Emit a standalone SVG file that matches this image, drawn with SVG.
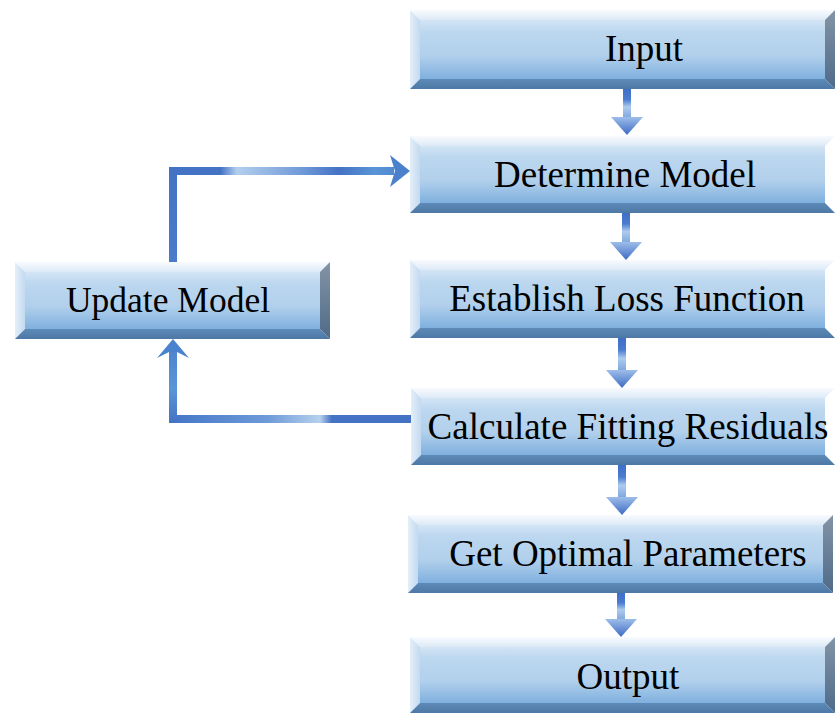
<svg xmlns="http://www.w3.org/2000/svg" width="835" height="713" viewBox="0 0 835 713">
<style>
.face{fill:url(#gFace)}
.bt{fill:url(#gTop)}
.bl{fill:url(#gLeft)}
.bb{fill:url(#gBot)}
.br{fill:url(#gRight)}
.lbl{font-size:37px;fill:#000;text-anchor:middle}
.shaft{fill:url(#gShaft)}
.head{fill:url(#gHead)}
</style>
<defs>
<linearGradient id="gFace" x1="0" y1="0" x2="0" y2="1">
<stop offset="0" stop-color="#d3e5f5"/><stop offset="0.2" stop-color="#bcd7ef"/><stop offset="0.6" stop-color="#b2d0ec"/><stop offset="1" stop-color="#7fb0de"/>
</linearGradient>
<linearGradient id="gTop" x1="0" y1="0" x2="0" y2="1">
<stop offset="0" stop-color="#f8fbfe"/><stop offset="1" stop-color="#dde9f6"/>
</linearGradient>
<linearGradient id="gLeft" x1="0" y1="0" x2="1" y2="0">
<stop offset="0" stop-color="#e4eff9"/><stop offset="1" stop-color="#c3daf0"/>
</linearGradient>
<linearGradient id="gBot" x1="0" y1="0" x2="0" y2="1">
<stop offset="0" stop-color="#5d8ab8"/><stop offset="1" stop-color="#4d78a5"/>
</linearGradient>
<linearGradient id="gRight" x1="0" y1="0" x2="0" y2="1">
<stop offset="0" stop-color="#8394a6"/><stop offset="1" stop-color="#4f6a88"/>
</linearGradient>
<linearGradient id="gShaft" x1="0" y1="0" x2="0" y2="1">
<stop offset="0" stop-color="#3f6ec6"/><stop offset="0.35" stop-color="#4a7cd0"/><stop offset="0.6" stop-color="#adcbec"/><stop offset="1" stop-color="#7aa3dc"/>
</linearGradient>
<linearGradient id="gHead" x1="0" y1="0" x2="0" y2="1">
<stop offset="0" stop-color="#9dbde9"/><stop offset="1" stop-color="#3d6bc4"/>
</linearGradient>
<linearGradient id="gFbH" gradientUnits="userSpaceOnUse" x1="410" y1="0" x2="173" y2="0">
<stop offset="0" stop-color="#4472c4"/><stop offset="0.33" stop-color="#4472c4"/><stop offset="0.38" stop-color="#b5d1ee"/><stop offset="0.6" stop-color="#6f9ad8"/><stop offset="1" stop-color="#4477c8"/>
</linearGradient>
<linearGradient id="gFbV" gradientUnits="userSpaceOnUse" x1="0" y1="423" x2="0" y2="339">
<stop offset="0" stop-color="#4472c4"/><stop offset="0.4" stop-color="#5a95d6"/><stop offset="1" stop-color="#4a80cc"/>
</linearGradient>
<linearGradient id="gTopV" gradientUnits="userSpaceOnUse" x1="0" y1="262" x2="0" y2="168">
<stop offset="0" stop-color="#4a7ccb"/><stop offset="1" stop-color="#4472c4"/>
</linearGradient>
<linearGradient id="gTopH" gradientUnits="userSpaceOnUse" x1="173" y1="0" x2="410" y2="0">
<stop offset="0" stop-color="#4472c4"/><stop offset="0.2" stop-color="#4472c4"/><stop offset="0.27" stop-color="#b3cfed"/><stop offset="0.55" stop-color="#6f98d8"/><stop offset="0.7" stop-color="#4472c4"/><stop offset="0.85" stop-color="#5a95d6"/><stop offset="1" stop-color="#4a80cc"/>
</linearGradient>
</defs>

<g id="connectors">
<g id="c1"><rect class="shaft" x="623" y="89" width="8" height="30"/><polygon class="head" points="611,117 643,117 627,135"/></g>
<g id="c2"><rect class="shaft" x="622" y="213" width="8" height="31"/><polygon class="head" points="610,242 642,242 626,260"/></g>
<g id="c3"><rect class="shaft" x="618" y="338" width="8" height="34"/><polygon class="head" points="606,370 638,370 622,388"/></g>
<g id="c4"><rect class="shaft" x="618" y="465" width="8" height="34"/><polygon class="head" points="606,497 638,497 622,515"/></g>
<g id="c5"><rect class="shaft" x="617" y="593" width="8" height="28"/><polygon class="head" points="605,619 637,619 621,637"/></g>
<g id="fb">
<rect x="173" y="415" width="238" height="8" fill="url(#gFbH)"/>
<rect x="169" y="352" width="8" height="71" fill="url(#gFbV)"/>
<polygon points="157,358 173,339 189,358 177,352 169,352" fill="#4a82cd"/>
</g>
<g id="loop">
<rect x="169" y="167" width="8" height="95" fill="url(#gTopV)"/>
<rect x="169" y="167" width="225" height="8" fill="url(#gTopH)"/>
<polygon points="390,155 410,171 390,187 395,171" fill="#4a80cc"/>
</g>
</g>

<g font-family="Liberation Serif, DejaVu Serif, serif">
<g id="n-input">
<rect class="face" x="420" y="20" width="405" height="59"/>
<polygon class="bt" points="410,10 835,10 825,20 420,20"/>
<polygon class="bl" points="410,10 420,20 420,79 410,89"/>
<polygon class="bb" points="410,89 420,79 825,79 835,89"/>
<polygon class="br" points="835,10 835,89 825,79 825,20"/>
<text class="lbl" x="644" y="61">Input</text>
</g>

<g id="n-determine">
<rect class="face" x="420" y="146" width="405" height="57"/>
<polygon class="bt" points="410,136 835,136 825,146 420,146"/>
<polygon class="bl" points="410,136 420,146 420,203 410,213"/>
<polygon class="bb" points="410,213 420,203 825,203 835,213"/>
<text class="lbl" x="625" y="187">Determine Model</text>
</g>

<g id="n-establish">
<rect class="face" x="420" y="270" width="405" height="58"/>
<polygon class="bt" points="410,260 835,260 825,270 420,270"/>
<polygon class="bl" points="410,260 420,270 420,328 410,338"/>
<polygon class="bb" points="410,338 420,328 825,328 835,338"/>
<text class="lbl" x="627" y="311">Establish Loss Function</text>
</g>

<g id="n-calculate">
<rect class="face" x="421" y="398" width="404" height="57"/>
<polygon class="bt" points="411,388 835,388 825,398 421,398"/>
<polygon class="bl" points="411,388 421,398 421,455 411,465"/>
<polygon class="bb" points="411,465 421,455 825,455 835,465"/>
<text class="lbl" x="628" y="439">Calculate Fitting Residuals</text>
</g>

<g id="n-optimal">
<rect class="face" x="418" y="525" width="405" height="58"/>
<polygon class="bt" points="408,515 833,515 823,525 418,525"/>
<polygon class="bl" points="408,515 418,525 418,583 408,593"/>
<polygon class="bb" points="408,593 418,583 823,583 833,593"/>
<polygon class="br" points="833,515 833,593 823,583 823,525"/>
<text class="lbl" x="628" y="566">Get Optimal Parameters</text>
</g>

<g id="n-output">
<rect class="face" x="420" y="647" width="405" height="56"/>
<polygon class="bt" points="410,637 835,637 825,647 420,647"/>
<polygon class="bl" points="410,637 420,647 420,703 410,713"/>
<polygon class="bb" points="410,713 420,703 825,703 835,713"/>
<polygon class="br" points="835,637 835,713 825,703 825,647"/>
<text class="lbl" x="628" y="689">Output</text>
</g>

<g id="n-update">
<rect class="face" x="25" y="272" width="295" height="57"/>
<polygon class="bt" points="15,262 330,262 320,272 25,272"/>
<polygon class="bl" points="15,262 25,272 25,329 15,339"/>
<polygon class="bb" points="15,339 25,329 320,329 330,339"/>
<polygon class="br" points="330,262 330,339 320,329 320,272"/>
<text class="lbl" x="168" y="312" style="font-size:35.5px">Update Model</text>
</g>
</g>
</svg>
